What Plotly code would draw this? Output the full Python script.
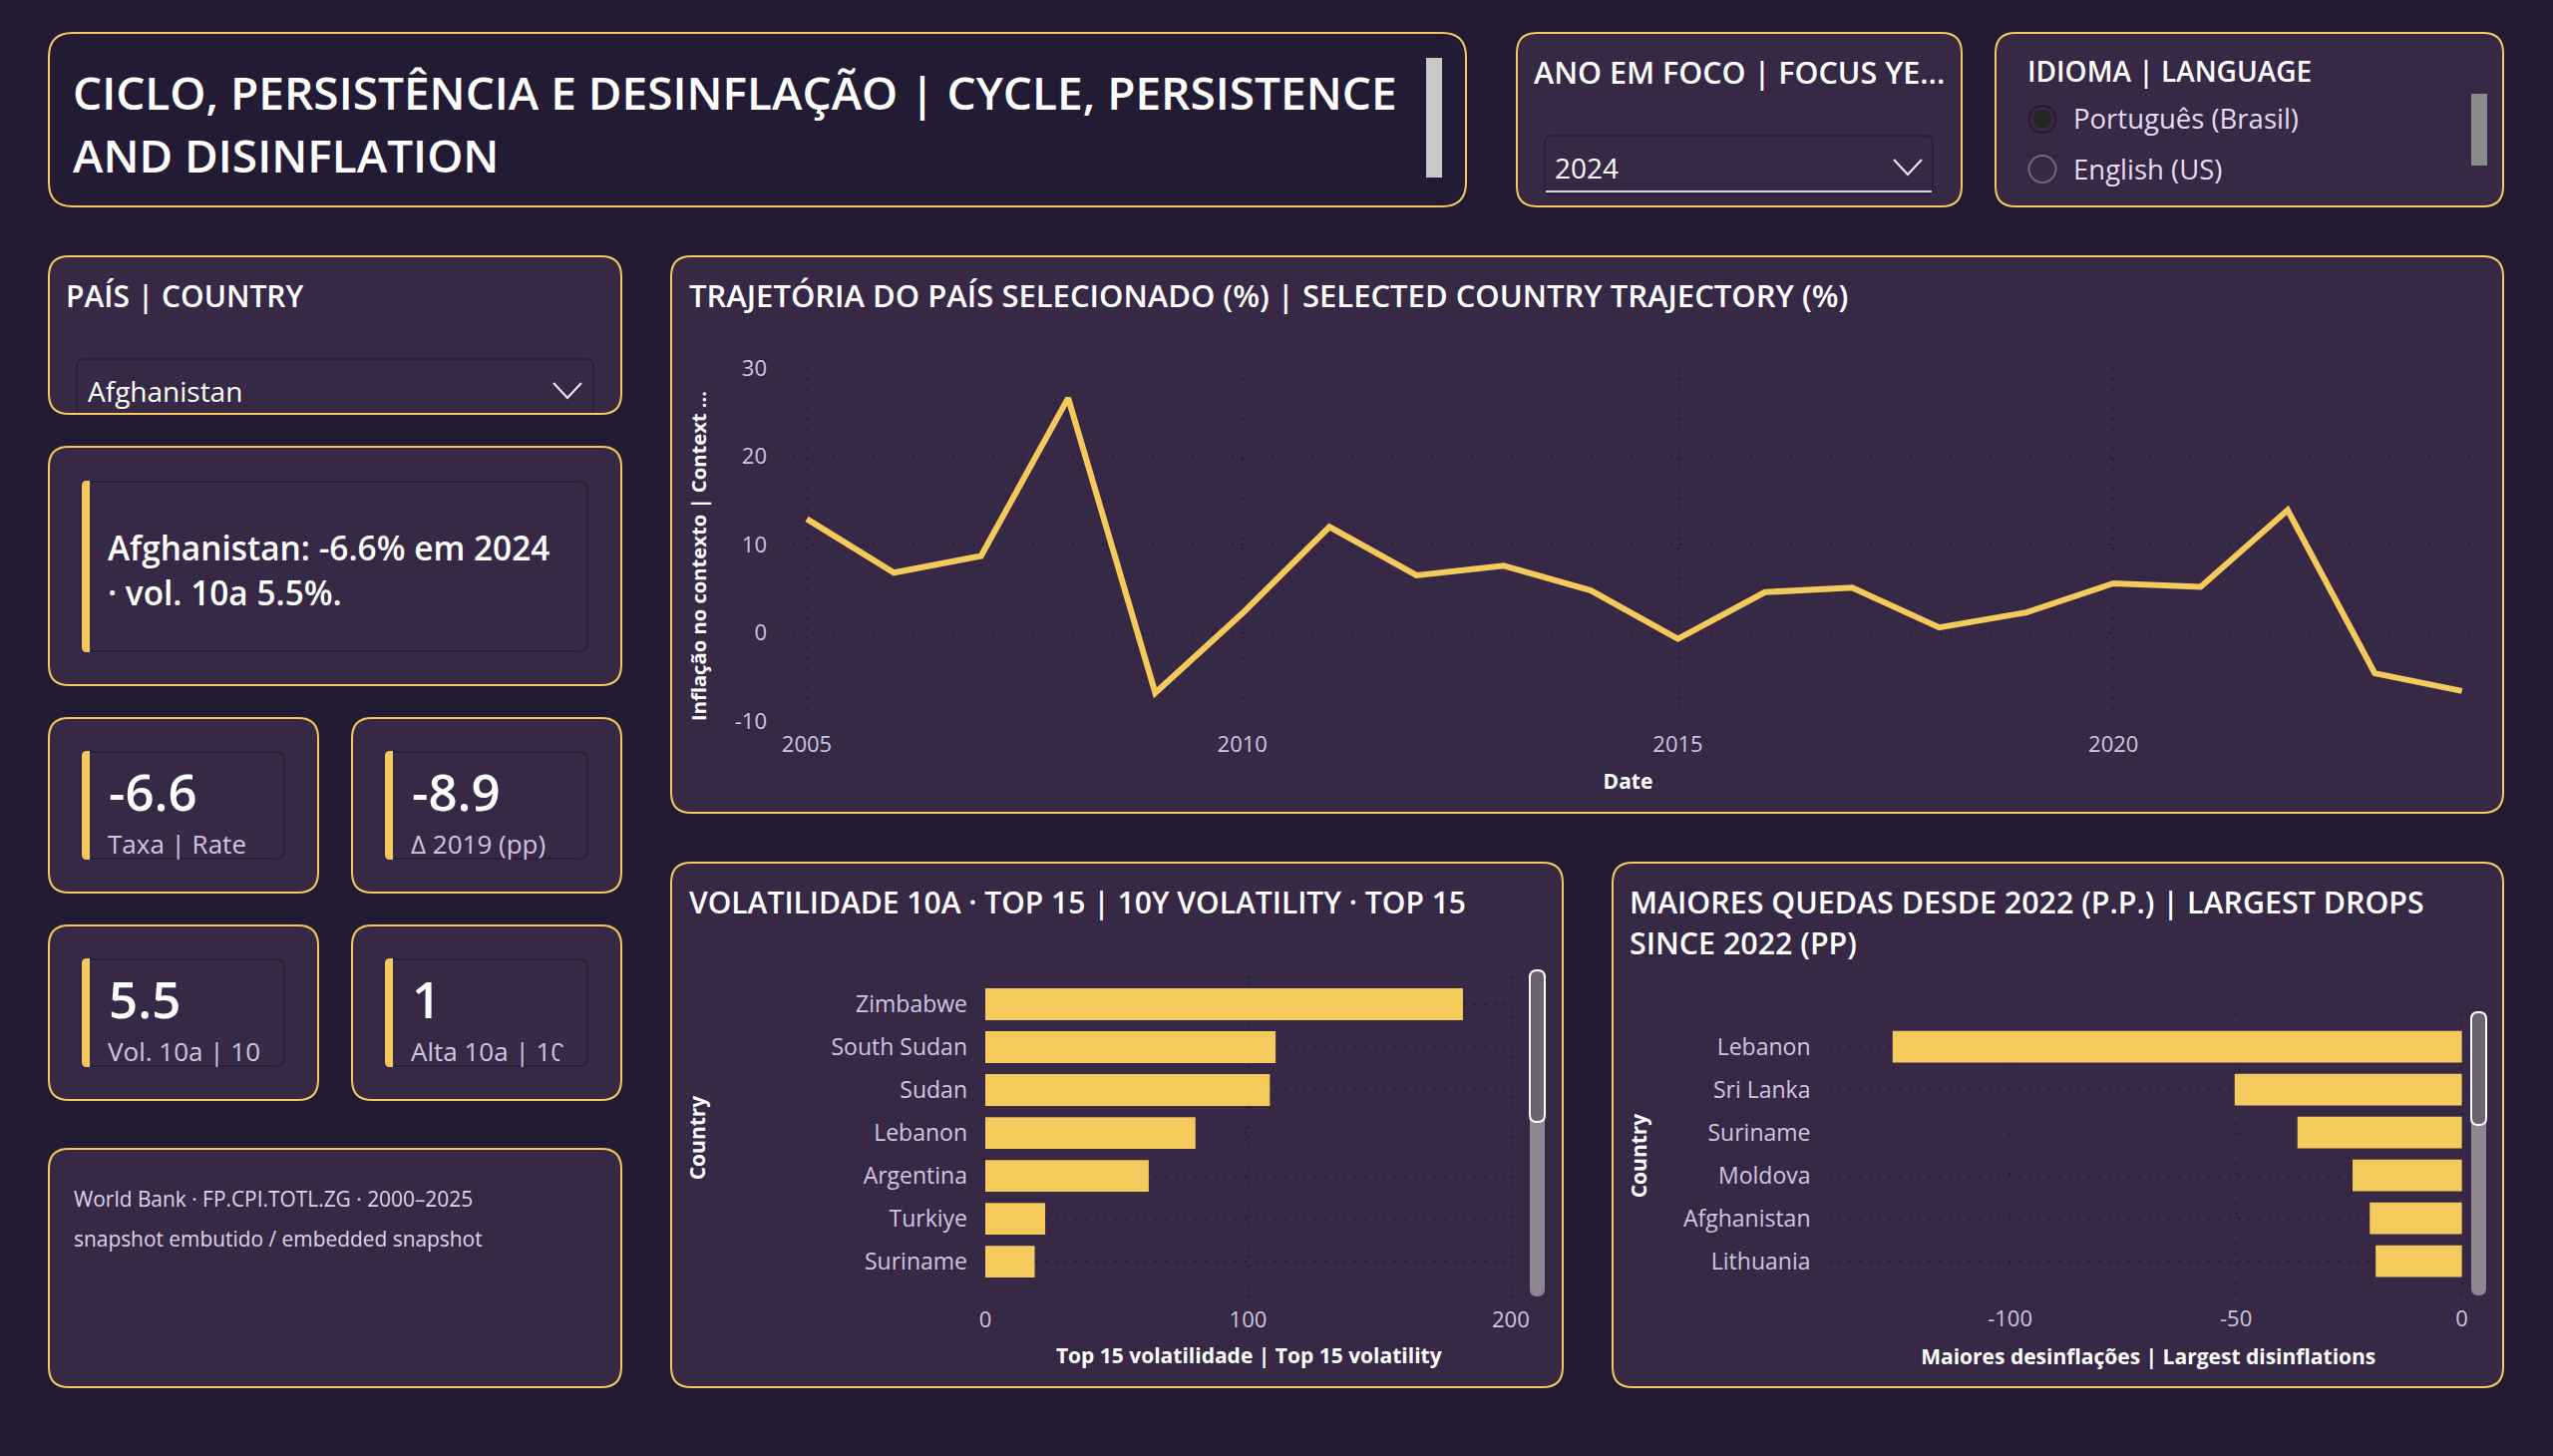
#!/usr/bin/env python
import plotly.graph_objects as go

# values
years = list(range(2005, 2025))
inflation = [12.9, 6.8, 8.7, 26.6, -6.8, 2.2, 12.0, 6.5, 7.6, 4.8,
             -0.7, 4.6, 5.1, 0.6, 2.3, 5.6, 5.2, 13.9, -4.6, -6.6]
inflation_ticks = [-10, 0, 10, 20, 30]
inflation_tick_labels = ["-10", "0", "10", "20", "30"]

vol_countries = ["Zimbabwe", "South Sudan", "Sudan", "Lebanon", "Argentina", "Turkiye", "Suriname"]
vol_values = [181.8, 110.5, 108.3, 80.0, 62.2, 22.8, 18.8]

drop_countries = ["Lebanon", "Sri Lanka", "Suriname", "Moldova", "Afghanistan", "Lithuania"]
drop_values = [-126.0, -50.3, -36.4, -24.2, -20.4, -19.1]
drop_ticks = [-100, -50, 0]
drop_tick_labels = ["-100", "-50", "0"]

W, H = 2560, 1460
BG = "#231A33"
PANEL = "#372845"
GOLD = "#F4CA5C"
INNER = "#2A1F38"
LAV = "#CFC5E2"
WHITE = "#FFFFFF"
GRID = "#271C36"
FONT = "Open Sans"


def fx(x):
    return x / W


def fy(y):
    return 1 - y / H


def rr_path(x0, y0, x1, y1, r):
    pts = [
        f"M {fx(x0 + r)} {fy(y0)}", f"L {fx(x1 - r)} {fy(y0)}",
        f"Q {fx(x1)} {fy(y0)} {fx(x1)} {fy(y0 + r)}", f"L {fx(x1)} {fy(y1 - r)}",
        f"Q {fx(x1)} {fy(y1)} {fx(x1 - r)} {fy(y1)}", f"L {fx(x0 + r)} {fy(y1)}",
        f"Q {fx(x0)} {fy(y1)} {fx(x0)} {fy(y1 - r)}", f"L {fx(x0)} {fy(y0 + r)}",
        f"Q {fx(x0)} {fy(y0)} {fx(x0 + r)} {fy(y0)}", "Z",
    ]
    return " ".join(pts)


shapes = []
annotations = []


def add_shape(path, fill="rgba(0,0,0,0)", line=None, width=0, layer="below"):
    shapes.append(dict(type="path", xref="paper", yref="paper", path=path, fillcolor=fill,
                       line=dict(color=line or "rgba(0,0,0,0)", width=width), layer=layer))


def panel(x0, y0, x1, y1, fill=PANEL, r=20):
    add_shape(rr_path(x0, y0, x1, y1, r), fill, GOLD, 2)


def inner_card(x0, y0, x1, y1):
    add_shape(rr_path(x0, y0, x1, y1, 8), PANEL, INNER, 2)
    # accent bar, rounded on the left only
    add_shape(f"M {fx(x0 + 8)} {fy(y0 - 1)} L {fx(x0 + 8)} {fy(y1 + 1)} L {fx(x0 + 5)} {fy(y1 + 1)} "
              f"Q {fx(x0)} {fy(y1 + 1)} {fx(x0)} {fy(y1 - 4)} L {fx(x0)} {fy(y0 + 4)} "
              f"Q {fx(x0)} {fy(y0 - 1)} {fx(x0 + 5)} {fy(y0 - 1)} Z", GOLD)


def chevron(x0, y0, x1, y1):
    mid = (x0 + x1) / 2
    add_shape(f"M {fx(x0)} {fy(y0)} L {fx(mid)} {fy(y1)} L {fx(x1)} {fy(y0)}", line="#F2EEF8", width=2)


def scrollbar(x0, x1, y0, y1, color):
    add_shape(rr_path(x0, y0, x1, y1, 0), color)


def thumb_bar(x0, x1, y0, y1, y_thumb):
    add_shape(rr_path(x0, y0, x1, y1, 7), "#8E8693")
    add_shape(rr_path(x0, y0, x1, y_thumb, 7), "#6B6470", "#FFFFFF", 2)


def circle(cx, cy, r, fill, line, width=2):
    shapes.append(dict(type="circle", xref="paper", yref="paper", x0=fx(cx - r), x1=fx(cx + r),
                       y0=fy(cy + r), y1=fy(cy - r), fillcolor=fill,
                       line=dict(color=line, width=width), layer="below"))


def text(x, y, s, size, color=WHITE, weight=400, anchor="left", angle=0):
    annotations.append(dict(xref="paper", yref="paper", x=fx(x), y=fy(y), text=s, showarrow=False,
                            xanchor=anchor, yanchor="middle", align="left", textangle=angle,
                            font=dict(family=FONT, size=size, color=color, weight=weight)))


def cover(x0, y0, x1, y1):
    # hides the end of a label, as the card clips it in the original
    annotations.append(dict(xref="paper", yref="paper", x=fx(x0), y=fy(y0), text=" ", showarrow=False,
                            xanchor="left", yanchor="top", width=x1 - x0, height=y1 - y0,
                            bgcolor=PANEL, borderpad=0, borderwidth=0, font=dict(size=8)))


# header
panel(49, 33, 1470, 207, fill=BG, r=24)
panel(1521, 33, 1967, 207)
panel(2001, 33, 2510, 207)
scrollbar(1430, 1446, 58, 178, "#C8C8C8")
scrollbar(2478, 2494, 94, 166, "#8A8A8A")
text(71, 92, "CICLO, PERSISTÊNCIA E DESINFLAÇÃO | CYCLE, PERSISTENCE", 46, weight=600)
text(71, 155, "AND DISINFLATION", 46, weight=600)

text(1536, 72, "ANO EM FOCO | FOCUS YE...", 30.5, weight=600)
add_shape(rr_path(1549, 136, 1938, 195, 8), PANEL, INNER, 2)
add_shape(f"M {fx(1550)} {fy(192)} L {fx(1937)} {fy(192)}", line="#DDD4EA", width=2)
text(1557, 168, "2024", 28)
chevron(1899, 160, 1927, 175)

text(2031, 71, "IDIOMA | LANGUAGE", 28, weight=600)
circle(2048, 119.5, 13.5, "rgba(0,0,0,0)", "#221C2C", 2)
circle(2048, 119.5, 9.5, "#252525", "#252525", 0)
circle(2048, 169.5, 13.5, "rgba(0,0,0,0)", "#6E6A70", 2)
text(2077, 119, "Português (Brasil)", 27.5, color="#E4DDF0")
text(2077, 169, "English (US)", 27.5, color="#E4DDF0")

# left column
panel(49, 257, 623, 415)
text(64, 296, "PAÍS | COUNTRY", 30, weight=600)
add_shape(f"M {fx(77)} {fy(414)} L {fx(77)} {fy(368)} Q {fx(77)} {fy(360)} {fx(85)} {fy(360)} "
          f"L {fx(587)} {fy(360)} Q {fx(595)} {fy(360)} {fx(595)} {fy(368)} L {fx(595)} {fy(414)}",
          line=INNER, width=2)
text(86, 392, "Afghanistan", 28)
chevron(555, 384, 583, 399)

panel(49, 448, 623, 687)
inner_card(82, 483, 589, 653)
text(106, 549, "Afghanistan: -6.6% em 2024", 33.4, weight=600)
text(106, 594, "· vol. 10a 5.5%.", 33.4, weight=600)

kpis = [
    (49, 720, "-6.6", "Taxa | Rate"),
    (353, 720, "-8.9", "Δ 2019 (pp)"),
    (49, 928, "5.5", "Vol. 10a | 10"),
    (353, 928, "1", "Alta 10a | 10"),
]
for x0, y0, value, label in kpis:
    panel(x0, y0, x0 + 270, y0 + 175)
    inner_card(x0 + 33, y0 + 34, x0 + 236, y0 + 141)
    text(x0 + 58, y0 + 73, value, 51, weight=600)
    text(x0 + 57, y0 + 126, label, 26, color=LAV)
    cover(x0 + 42, y0 + 143, x0 + 240, y0 + 155)
cover(561, 1050, 586, 1068)

panel(49, 1152, 623, 1391)
text(72, 1202, "World Bank · FP.CPI.TOTL.ZG · 2000–2025", 20.9, color="#DDD4EA")
text(72, 1242, "snapshot embutido / embedded snapshot", 20.9, color="#DDD4EA")

# chart panels
panel(673, 257, 2510, 815)
panel(673, 865, 1567, 1391)
panel(1617, 865, 2510, 1391)
text(689, 296, "TRAJETÓRIA DO PAÍS SELECIONADO (%) | SELECTED COUNTRY TRAJECTORY (%)", 31, weight=600)
text(689, 904, "VOLATILIDADE 10A · TOP 15 | 10Y VOLATILITY · TOP 15", 30, weight=600)
text(1632, 904, "MAIORES QUEDAS DESDE 2022 (P.P.) | LARGEST DROPS", 30.4, weight=600)
text(1632, 946, "SINCE 2022 (PP)", 30.4, weight=600)
text(700, 558, "Inflação no contexto | Context ...", 20.2, weight=700, anchor="center", angle=-90)
thumb_bar(1534, 1549, 973, 1300, 1125)
thumb_bar(2478, 2493, 1015, 1299, 1128)

fig = go.Figure()
fig.add_trace(go.Scatter(x=years, y=inflation, mode="lines", xaxis="x", yaxis="y",
                         line=dict(color=GOLD, width=6), showlegend=False))
fig.add_trace(go.Bar(x=vol_values, y=vol_countries, orientation="h", xaxis="x2", yaxis="y2",
                     marker=dict(color=GOLD, line=dict(width=0)), width=0.74, showlegend=False))
fig.add_trace(go.Bar(x=drop_values, y=drop_countries, orientation="h", xaxis="x3", yaxis="y3",
                     marker=dict(color=GOLD, line=dict(width=0)), width=0.74, showlegend=False))

tick_font = dict(family=FONT, size=22, color=LAV)
cat_font = dict(family=FONT, size=23, color=LAV)
title_font = dict(family=FONT, size=21, color=WHITE, weight=700)
common = dict(showgrid=True, gridcolor=GRID, griddash="2px,8px", gridwidth=2, zeroline=False,
              showline=False, ticks="", tickfont=tick_font, automargin=False)

fig.update_layout(
    width=W, height=H, margin=dict(l=0, r=0, t=0, b=0), autosize=False,
    paper_bgcolor=BG, plot_bgcolor="rgba(0,0,0,0)", showlegend=False,
    bargap=0.26, shapes=shapes, annotations=annotations, font=dict(family=FONT),
    xaxis=dict(domain=[fx(785), fx(2480)], range=[2004.725, 2024.13], dtick=5, tick0=2005, anchor="y",
               tickformat="d", ticklabelstandoff=8,
               title=dict(text="Date", font=title_font, standoff=17), **common),
    yaxis=dict(domain=[fy(723), fy(369)], range=[-10, 30], tickvals=inflation_ticks,
               ticktext=inflation_tick_labels, anchor="x", ticklabelstandoff=15, **common),
    xaxis2=dict(domain=[fx(988), fx(1516.5)], range=[0, 200.6], dtick=100, anchor="y2",
                ticklabelstandoff=5,
                title=dict(text="Top 15 volatilidade | Top 15 volatility", font=title_font, standoff=16), **common),
    yaxis2=dict(domain=[fy(1303), fy(979)], type="category", categoryorder="array",
                categoryarray=vol_countries, range=[6.88, -0.65], anchor="x2", ticklabelstandoff=17,
                title=dict(text="Country", font=title_font, standoff=120), **{**common, "tickfont": cat_font}),
    xaxis3=dict(domain=[fx(1833.5), fx(2475)], range=[-140.2, 1.4], tickvals=drop_ticks,
                ticktext=drop_tick_labels, anchor="y3", ticklabelstandoff=5,
                title=dict(text="Maiores desinflações | Largest disinflations", font=title_font, standoff=18), **common),
    yaxis3=dict(domain=[fy(1302), fy(1016)], type="category", categoryorder="array",
                categoryarray=drop_countries, range=[5.87, -0.78], anchor="x3", ticklabelstandoff=17,
                title=dict(text="Country", font=title_font, standoff=30), **{**common, "tickfont": cat_font}),
)

page_js = f"document.body.style.margin='0';document.body.style.background='{BG}';"
fig.write_html("out.html", post_script=page_js, config={"displayModeBar": False})
